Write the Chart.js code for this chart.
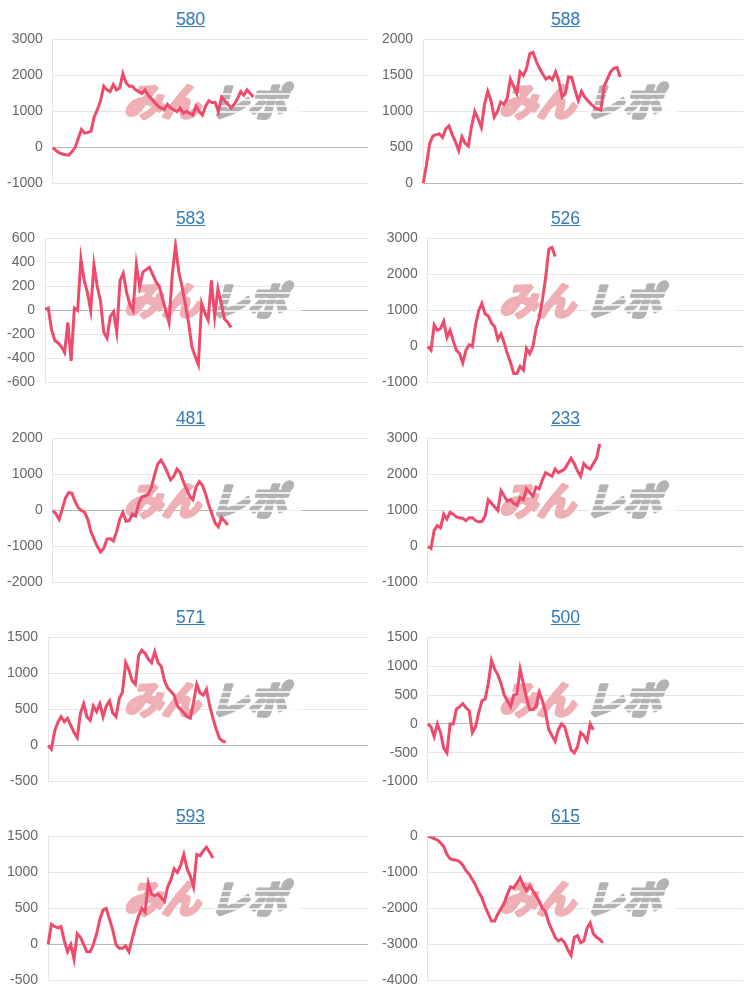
<!DOCTYPE html>
<html>
<head>
<meta charset="utf-8">
<script src="https://cdn.jsdelivr.net/npm/chart.js@4.4.1/dist/chart.umd.min.js"></script>
<style>
  body { margin: 0; background: #fff; font-family: 'Liberation Sans', Arial, sans-serif; }
  #grid { position: relative; width: 750px; height: 993px; overflow: hidden; }
  .cell { position: absolute; width: 375px; height: 199px; }
  .cell a { position: absolute; top: 9px; left: 0; width: 381px; text-align: center;
            font-size: 17.5px; line-height: 20px; color: #337ab7; text-decoration: underline; }
  .cell .box { position: absolute; left: -3px; top: 21px; width: 371px; height: 181px; }
</style>
</head>
<body>
<div id="grid"></div>
<script>
// machine numbers shown above each chart
const titles = ['580', '588', '583', '526', '481', '233', '571', '500', '593', '615'];

// cumulative difference per game
const s580 = [0, -80, -150, -180, -200, -210, -120, 0, 250, 500, 400, 420, 450, 850, 1050, 1300, 1700, 1600, 1550, 1750,
  1600, 1650, 2050, 1800, 1700, 1700, 1600, 1550, 1500, 1600, 1450, 1350, 1250, 1150, 1100, 1050, 1200, 1100, 1050, 1000,
  1100, 950, 1000, 950, 900, 1150, 1000, 900, 1150, 1300, 1250, 1250, 1000, 1400, 1300, 1200, 1100, 1200, 1350, 1550,
  1450, 1600, 1500, 1400];
const s588 = [0, 250, 550, 660, 680, 690, 640, 760, 800, 680, 580, 460, 650, 560, 520, 800, 1000, 900, 780, 1100,
  1280, 1150, 920, 1000, 1130, 1100, 1180, 1450, 1350, 1250, 1550, 1500, 1600, 1800, 1820, 1700, 1600, 1520, 1450, 1480,
  1440, 1550, 1420, 1200, 1250, 1480, 1470, 1300, 1150, 1280, 1200, 1150, 1100, 1060, 1030, 1020, 1350, 1450, 1550, 1600,
  1610, 1480];
const s583 = [10, 20, -160, -250, -270, -300, -350, -100, -420, 20, 0, 430, 250, 150, 0, 380, 200, 80, -180,
  -230, -50, -10, -180, 250, 310, 150, 50, 0, 380, 200, 320, 340, 360, 300, 240, 200, 100, 0, -100,
  300, 540, 320, 200, 50, -100, -300, -380, -450, 60, -20, -80, 250, -50, 180, 60, -70, -100, -140];
const s526 = [0, -100, 600, 450, 500, 700, 250, 450, 150, -100, -200, -450, -100, 50, 0, 600, 1000, 1200, 900, 850,
  650, 550, 200, 350, 100, -200, -450, -750, -750, -550, -650, -50, -200, 0, 500, 800, 1300, 1900, 2700, 2750, 2500];
const s481 = [0, -100, -250, 50, 350, 500, 480, 250, 80, 0, -50, -250, -600, -800, -1000, -1150, -1050, -800, -780, -850,
  -600, -250, -50, -300, -280, -100, -150, 200, 380, 400, 450, 650, 1000, 1300, 1400, 1250, 1050, 850, 950, 1150,
  1050, 800, 600, 400, 300, 650, 800, 700, 450, 150, -100, -350, -450, -200, -300, -400];
const s233 = [0, -50, 450, 580, 520, 900, 760, 950, 900, 820, 800, 780, 720, 800, 800, 720, 680, 700, 850, 1300,
  1200, 1100, 1000, 1550, 1400, 1260, 1300, 1200, 1150, 1350, 1300, 1600, 1500, 1400, 1650, 1600, 1850, 2050, 2000, 1950,
  2150, 2050, 2100, 2150, 2300, 2450, 2300, 2100, 1950, 2300, 2200, 2150, 2300, 2450, 2850];
const s571 = [0, -50, 200, 320, 400, 330, 380, 280, 180, 110, 450, 580, 400, 350, 550, 470, 580, 400, 550, 620,
  450, 400, 650, 740, 1150, 1050, 900, 850, 1250, 1320, 1280, 1200, 1150, 1300, 1150, 1100, 900, 800, 750, 700,
  550, 500, 450, 400, 380, 600, 850, 730, 700, 780, 550, 380, 230, 100, 60, 50];
const s500 = [0, -50, -220, 0, -150, -420, -500, 0, 0, 260, 300, 350, 280, 230, -150, -50, 200, 400, 430, 700,
  1100, 950, 850, 700, 500, 400, 300, 500, 520, 950, 700, 450, 250, 250, 300, 550, 400, 200, -100, -200,
  -300, -100, 0, -50, -250, -450, -500, -400, -150, -200, -300, 0, -100];
const s593 = [0, 280, 250, 230, 250, 50, -100, 0, -200, 150, 100, 0, -100, -100, 0, 150, 350, 480, 500, 350,
  200, 0, -50, -50, -20, -100, 80, 250, 400, 500, 450, 850, 700, 680, 700, 650, 600, 800, 900, 1050,
  1000, 1100, 1250, 1050, 950, 800, 1250, 1230, 1300, 1350, 1280, 1200];
const s615 = [0, -20, -60, -100, -180, -280, -500, -620, -650, -660, -700, -800, -950, -1050, -1200, -1350, -1550, -1700, -1950, -2150,
  -2350, -2350, -2150, -2000, -1850, -1600, -1400, -1430, -1300, -1150, -1350, -1500, -1380, -1500, -1650, -1800, -2000, -2100, -2400, -2600,
  -2800, -2900, -2850, -2950, -3150, -3300, -2800, -2750, -2950, -2900, -2550, -2400, -2700, -2800, -2850, -2950];

const series = [s580, s588, s583, s526, s481, s233, s571, s500, s593, s615];

// y axis range and tick step for each chart
const yMin = [-1000, 0, -600, -1000, -2000, -1000, -500, -1000, -500, -4000];
const yMax = [3000, 2000, 600, 3000, 2000, 3000, 1500, 1500, 1500, 0];
const yStep = [1000, 500, 200, 1000, 1000, 1000, 500, 500, 500, 1000];

// x slots (games), no labels shown
const gameCount = 100;
const labels = [];
for (let i = 1; i <= gameCount; i++) labels.push(String(i));

// "みんレポ" mark drawn behind the line
const watermark = {
  id: 'watermark',
  beforeDatasetsDraw(chart) {
    const ctx = chart.ctx;
    ctx.save();
    ctx.translate(212, 81);
    ctx.transform(1, 0, -0.3, 1, 0, 0);
    ctx.font = 'bold 38px "Noto Sans CJK JP"';
    ctx.textBaseline = 'middle';
    ctx.lineJoin = 'round';
    ctx.lineWidth = 3.5;
    ctx.textAlign = 'right';
    ctx.fillStyle = ctx.strokeStyle = '#efb0b5';
    ctx.strokeText('みん', -5, 0);
    ctx.fillText('みん', -5, 0);
    ctx.textAlign = 'left';
    ctx.fillStyle = ctx.strokeStyle = '#b3b3b3';
    ctx.strokeText('レポ', 5, 0);
    ctx.fillText('レポ', 5, 0);
    ctx.strokeStyle = '#ffffff';
    ctx.lineWidth = 1.4;
    [-8, -2, 4, 10].forEach((dy) => {
      ctx.beginPath();
      ctx.moveTo(8, dy);
      ctx.lineTo(96, dy);
      ctx.stroke();
    });
    ctx.restore();
  },
};

const grid = document.getElementById('grid');

series.forEach((data, idx) => {
  const row = Math.floor(idx / 2);
  const col = idx % 2;
  const cell = document.createElement('div');
  cell.className = 'cell';
  cell.style.left = col * 375 + 'px';
  cell.style.top = row * 199.3 + 'px';
  cell.innerHTML = '<a href="#">' + titles[idx] + '</a><div class="box"><canvas></canvas></div>';
  grid.appendChild(cell);

  const ctx = cell.querySelector('canvas').getContext('2d');
  new Chart(ctx, {
    type: 'line',
    data: {
      labels: labels,
      datasets: [{
        data: data,
        borderColor: 'rgb(238, 74, 108)',
        borderWidth: 3,
        pointRadius: 0,
        tension: 0,
        fill: false,
      }],
    },
    options: {
      responsive: true,
      maintainAspectRatio: false,
      animation: false,
      layout: { padding: 0 },
      plugins: { legend: { display: false }, tooltip: { enabled: false } },
      scales: {
        x: { display: false },
        y: {
          min: yMin[idx],
          max: yMax[idx],
          ticks: {
            stepSize: yStep[idx],
            padding: 10,
            color: '#666',
            font: { size: 14, family: "'Liberation Sans', Arial, sans-serif" },
            callback: (v) => String(v),
          },
          grid: {
            drawTicks: false,
            color: (c) => (c.tick && c.tick.value === 0 ? 'rgba(0,0,0,0.28)' : 'rgba(0,0,0,0.1)'),
          },
          border: { color: 'rgba(0,0,0,0.1)' },
        },
      },
    },
    plugins: [watermark],
  });
});
</script>
</body>
</html>
